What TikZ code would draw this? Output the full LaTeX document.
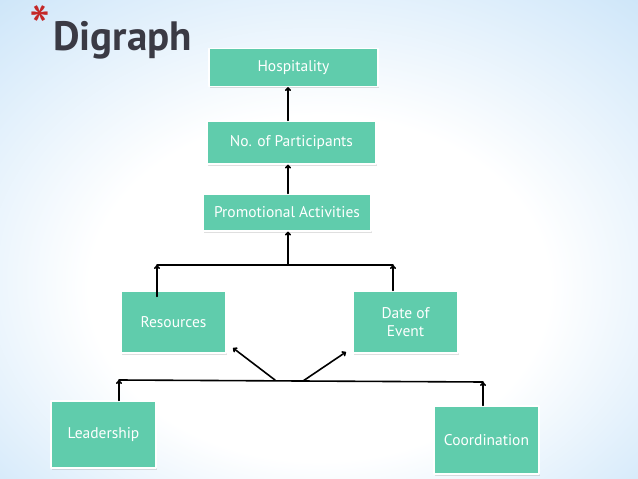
\documentclass[tikz,border=0pt]{standalone}
\usepackage{fontspec}
\setmainfont{PT Sans}
\usetikzlibrary{arrows.meta,shadows}

\definecolor{bgblue}{RGB}{172,212,243}
\definecolor{bgmid}{RGB}{214,234,250}
\definecolor{boxgreen}{RGB}{96,204,172}
\definecolor{titlegray}{RGB}{58,58,68}
\definecolor{starred}{RGB}{196,40,40}

\pgfdeclareradialshading{slidebg}{\pgfpoint{0bp}{-8bp}}{%
  color(0bp)=(white); color(18bp)=(white); color(34bp)=(bgmid); color(50bp)=(bgblue)}

\tikzset{
  stepbox/.style={draw=white, line width=1.2pt, fill=boxgreen, text=white,
    inner sep=0pt, align=center, font=\fontsize{15.5}{18}\selectfont,
    drop shadow={shadow xshift=1pt, shadow yshift=-1.5pt, opacity=0.25}},
  arr/.style={-{To[length=4pt,width=6pt]}, line width=1.6pt},
  bar/.style={line width=1.6pt}
}

\begin{document}
\begin{tikzpicture}[x=1pt, y=-1pt, line cap=round, line join=round]

  %% ════ background ════
  \shade[shading=slidebg] (0,0) rectangle (638,479);

  %% ════ title ════
  \node[anchor=center, inner sep=0pt, text=starred, font=\fontsize{60}{60}\selectfont] (star) at (40,27) {*};
  \node[anchor=base west, inner sep=0pt, text=titlegray, font=\fontsize{41}{41}\selectfont] (title) at (53,50) {\textbf{Digraph}};

  %% ════ boxes ════
  \node[stepbox, minimum width=169pt, minimum height=38pt] (hosp)  at (293.5,67.5)  {Hospitality};
  \node[stepbox, minimum width=169pt, minimum height=43pt] (part)  at (291.5,142.5) {No. of Participants};
  \node[stepbox, minimum width=168pt, minimum height=37pt] (promo) at (287,212.5)   {Promotional Activities};
  \node[stepbox, minimum width=105pt, minimum height=62pt] (res)   at (173.5,322)   {Resources};
  \node[stepbox, minimum width=105pt, minimum height=62pt] (date)  at (405.5,322)   {Date of\\Event};
  \node[stepbox, minimum width=105pt, minimum height=67pt] (lead)  at (103.5,434.5) {Leadership};
  \node[stepbox, minimum width=105pt, minimum height=68pt] (coord) at (486.5,440)   {Coordination};

  %% ════ junctions ════
  \coordinate (tl) at (157,265);
  \coordinate (tm) at (288,265);
  \coordinate (tr) at (393,265);
  \coordinate (bl) at (119,380);
  \coordinate (bm1) at (275,380);
  \coordinate (bm2) at (303,381);
  \coordinate (br) at (483,382);
  \coordinate (rtip) at (233,348);
  \coordinate (dtip) at (346,352);

  %% ════ connectors ════
  \draw[arr] (part.north -| tm) -- (hosp.south -| tm);
  \draw[arr] (promo.north -| tm) -- (part.south -| tm);
  \draw[arr] (tm) -- (promo.south -| tm);
  \draw[bar] (tl) -- (tr);
  \draw[arr] ([yshift=-6pt]res.north -| tl) -- (tl);
  \draw[arr] (date.north -| tr) -- (tr);

  \draw[bar] (bl) -- (br);
  \draw[arr] (lead.north -| bl) -- (bl);
  \draw[arr] (coord.north -| br) -- (br);
  \draw[arr] (bm1) -- (rtip);
  \draw[arr] (bm2) -- (dtip);

  \pgfresetboundingbox
  \path[use as bounding box] (0,0) rectangle (638,479);
\end{tikzpicture}
\end{document}
